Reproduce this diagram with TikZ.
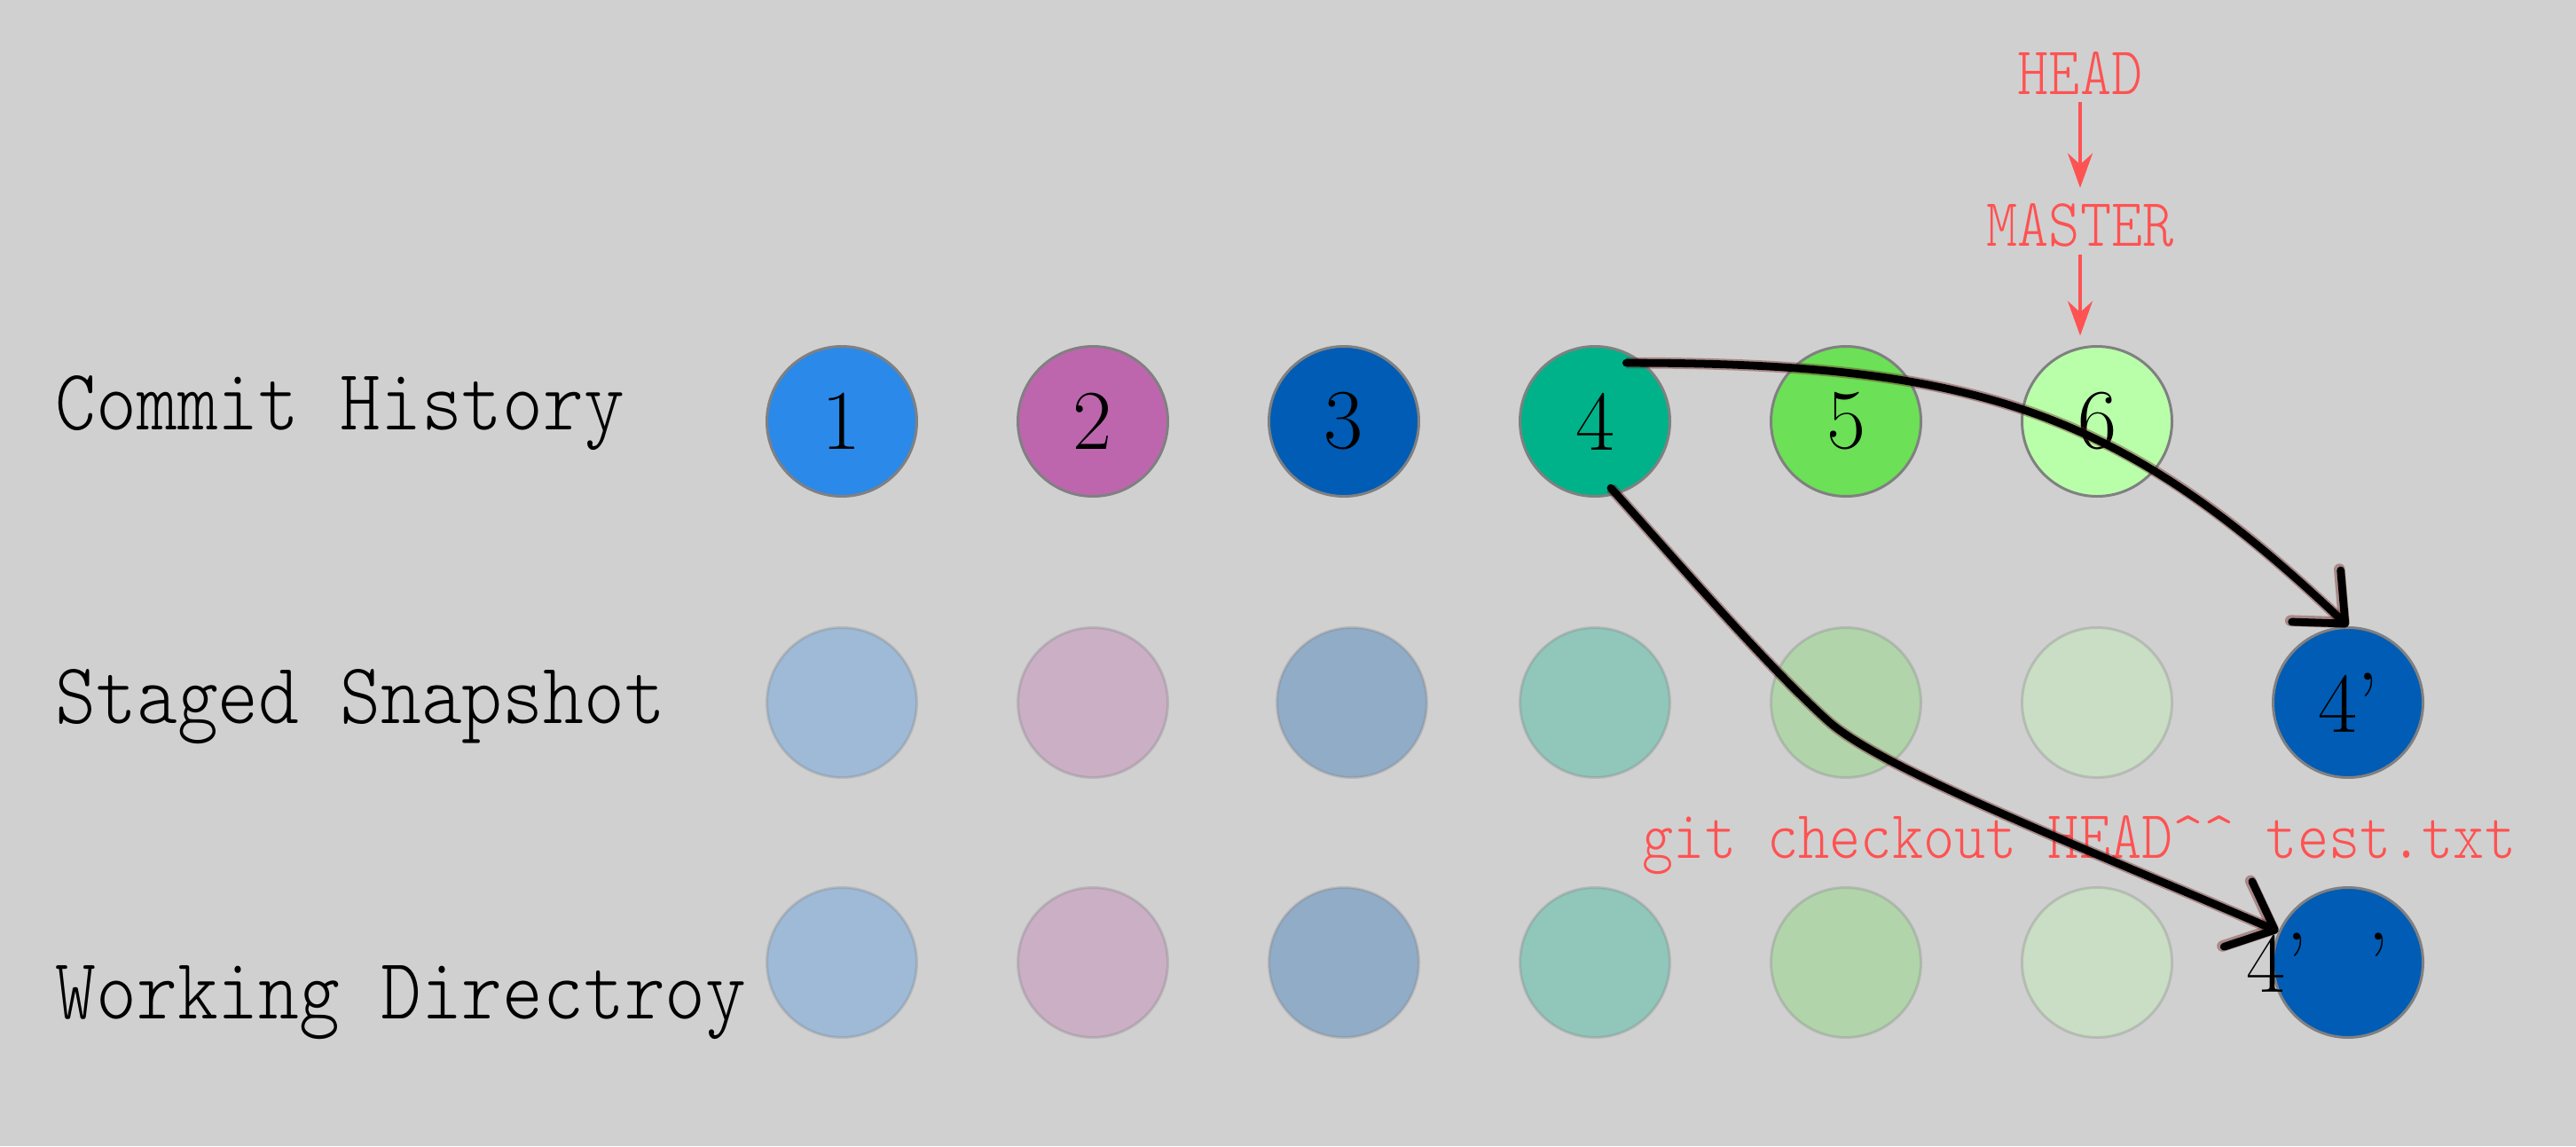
\documentclass[tikz,border=0pt]{standalone}
\usepackage{fontspec}
\usetikzlibrary{arrows.meta}

\newfontfamily\gitmono[FakeStretch=0.89]{lmmonolt10-regular.otf}
\newfontfamily\tagmono[FakeStretch=0.87]{lmmonolt10-regular.otf}
\newcommand\rowfont{\gitmono\fontsize{27.9pt}{32pt}\selectfont}
\newcommand\tagfont{\tagmono\fontsize{21.9pt}{26pt}\selectfont}
\newcommand\numfont{\fontsize{27.3pt}{30pt}\selectfont}

\definecolor{bg}{HTML}{D0D0D0}
\definecolor{cone}{HTML}{2B89E9}
\definecolor{ctwo}{HTML}{BD66AE}
\definecolor{cthree}{HTML}{005CB4}
\definecolor{cfour}{HTML}{00B28A}
\definecolor{cfive}{HTML}{6CE057}
\definecolor{csix}{HTML}{B9FFAA}
\definecolor{hred}{HTML}{FF5252}
\definecolor{halo}{HTML}{6E1E1E}

\begin{document}
\begin{tikzpicture}[
    commit/.style={circle, draw=gray, line width=0.85pt, minimum size=1.69cm, inner sep=0, font=\numfont},
    faded/.style={commit, opacity=0.3},
    rowlabel/.style={anchor=base west, inner sep=0, font=\rowfont},
    tag/.style={anchor=base, text=hred, font=\tagfont},
    ptr/.style={draw=hred, line width=1pt, -{Stealth[length=0.39cm, width=0.28cm]}, shorten >=3pt},
    move/.style={line width=2.5pt, line cap=round, -{Straight Barb[length=0.45cm, width=0.8cm, round]},
      preaction={draw=halo, line width=3.6pt, opacity=0.4}}]

  \fill[bg] (0,0) rectangle (29.04,12.92);

  % commit history
  \node[commit, fill=cone] (c1) at (9.49, 8.17) {1};
  \node[commit, fill=ctwo] (c2) at ([xshift=2.83cm]c1.center) {2};
  \node[commit, fill=cthree] (c3) at ([xshift=2.83cm]c2.center) {3};
  \node[commit, fill=cfour] (c4) at ([xshift=2.83cm]c3.center) {4};
  \node[commit, fill=cfive] (c5) at ([xshift=2.83cm]c4.center) {5};
  \node[commit, fill=csix] (c6) at ([xshift=2.83cm]c5.center) {6};

  % staged snapshot
  \node[faded, fill=cone] (s1) at ([yshift=-3.17cm]c1.center) {};
  \node[faded, fill=ctwo] (s2) at ([yshift=-3.17cm]c2.center) {};
  \node[faded, fill=cthree] (s3) at ([xshift=0.09cm, yshift=-3.17cm]c3.center) {};
  \node[faded, fill=cfour] (s4) at ([yshift=-3.17cm]c4.center) {};
  \node[faded, fill=cfive] (s5) at ([yshift=-3.17cm]c5.center) {};
  \node[faded, fill=csix] (s6) at ([yshift=-3.17cm]c6.center) {};
  \node[commit, fill=cthree] (s7) at ([xshift=2.83cm]s6.center) {4’};

  % working directory
  \node[faded, fill=cone] (w1) at ([yshift=-6.10cm]c1.center) {};
  \node[faded, fill=ctwo] (w2) at ([yshift=-6.10cm]c2.center) {};
  \node[faded, fill=cthree] (w3) at ([yshift=-6.10cm]c3.center) {};
  \node[faded, fill=cfour] (w4) at ([yshift=-6.10cm]c4.center) {};
  \node[faded, fill=cfive] (w5) at ([yshift=-6.10cm]c5.center) {};
  \node[faded, fill=csix] (w6) at ([yshift=-6.10cm]c6.center) {};
  \node[commit, fill=cthree] (w7) at ([xshift=2.83cm]w6.center) {};
  \node[font=\numfont, inner sep=0] (w7txt) at ([xshift=-0.34cm]w7.center) {4’\hspace{0.71em}’};

  % labels
  \node[rowlabel] (lcommit) at (0.62, 8.08) {Commit History};
  \node[rowlabel] (lstage) at (0.62, 4.77) {Staged Snapshot};
  \node[rowlabel] (lwork) at (0.62, 1.44) {Working Directroy};

  % refs
  \node[tag, inner sep=2pt] (head) at (23.45, 11.85) {HEAD};
  \node[tag, inner sep=2pt] (master) at (23.45, 10.14) {MASTER};
  \draw[ptr] (head) -- (master);
  \draw[ptr] (master) -- (master |- c6.north);

  \node[tag, inner sep=0] (cmd) at (23.44, 3.25) {git checkout HEAD\textasciicircum\textasciicircum{} test.txt};

  % moves
  \coordinate (kink) at (20.60, 4.80);
  \draw[move] ([shift={(-0.05,-0.1)}]c4.62) .. controls +(4.00,0) and +(-2.54,2.41) .. (s7.north);
  \draw[move] ([yshift=0.09cm]c4.-78) .. controls +(0.67,-0.74) and +(-0.74,0.67) .. (kink)
    .. controls +(0.59,-0.54) and +(-2.30,0.99) .. (w7.156);
\end{tikzpicture}
\end{document}
